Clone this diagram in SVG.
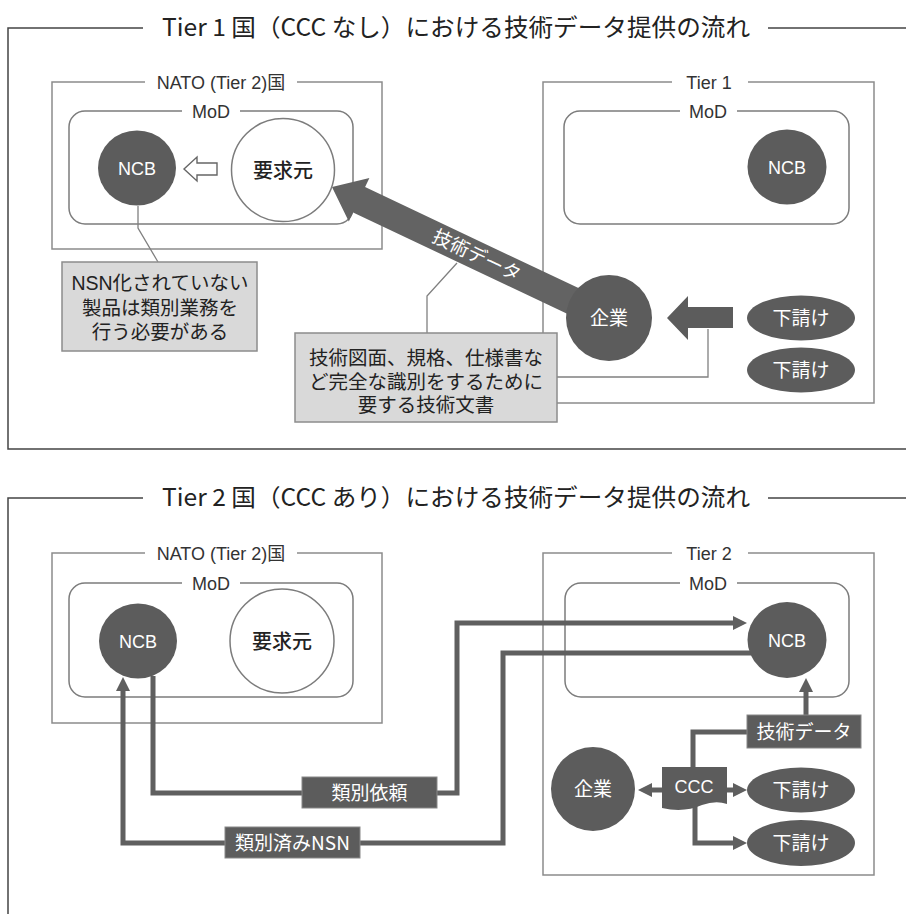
<svg xmlns="http://www.w3.org/2000/svg" width="906" height="914" viewBox="0 0 906 914">
<defs>
<marker id="ah" markerUnits="userSpaceOnUse" markerWidth="16" markerHeight="16" refX="4" refY="7" orient="auto"><path d="M0,0 L14,7 L0,14 Z" fill="#5f5f5f"/></marker>
</defs>
<style>
.frame{fill:none;stroke:#444;stroke-width:1.5}
.box{fill:none;stroke:#8c8c8c;stroke-width:1.5}
.mod{fill:none;stroke:#7c7c7c;stroke-width:1.5}
.dark{fill:#5c5c5c}
.white{fill:#fff;stroke:#7c7c7c;stroke-width:1.5}
.title{font-family:"Noto Sans CJK JP",sans-serif;font-size:24px;fill:#222}
.lbl{font-family:"Liberation Sans","Noto Sans CJK JP",sans-serif;font-size:18px;fill:#333;text-anchor:middle}
.wt{font-family:"Liberation Sans","Noto Sans CJK JP",sans-serif;font-size:18px;fill:#fff;text-anchor:middle}
.wj{font-family:"Noto Sans CJK JP",sans-serif;font-size:19px;fill:#fff;text-anchor:middle}
.bj{font-family:"Noto Sans CJK JP",sans-serif;font-size:20px;font-weight:500;fill:#222;text-anchor:middle}
.callout{fill:#d9d9d9;stroke:#8c8c8c;stroke-width:1.5}
.ctext{font-family:"Liberation Sans","Noto Sans CJK JP",sans-serif;font-size:19.5px;fill:#222;text-anchor:middle}
.ptr{fill:none;stroke:#808080;stroke-width:1.3}
.conn{fill:none;stroke:#5f5f5f;stroke-width:5}
.tag{fill:#5c5c5c;stroke:#888;stroke-width:1}
</style>

<!-- ===== Top panel frame ===== -->
<g id="panel1">
<path class="frame" d="M143,28 H8 V449 H906 M768,28 H906"/>
<text class="title" x="162" y="36" textLength="588" lengthAdjust="spacingAndGlyphs">Tier 1 国（CCC なし）における技術データ提供の流れ</text>
</g>
<g id="p1-nato">
<path class="box" d="M145,82 H52 V249 H382 V82 H297"/>
<text class="lbl" x="221" y="88.5">NATO (Tier 2)国</text>
</g>
<g id="p1-nato-mod">
<path class="mod" d="M182,111 H85 A16,16 0 0 0 69,127 V208 A16,16 0 0 0 85,224 H337 A16,16 0 0 0 353,208 V127 A16,16 0 0 0 337,111 H240"/>
<text class="lbl" x="211" y="117.5">MoD</text>
</g>
<g id="p1-tier1">
<path class="box" d="M672,82 H543 V403 H874 V82 H748"/>
<text class="lbl" x="709" y="88.5">Tier 1</text>
</g>
<g id="p1-tier1-mod">
<path class="mod" d="M680,111 H580 A16,16 0 0 0 564,127 V208 A16,16 0 0 0 580,224 H833 A16,16 0 0 0 849,208 V127 A16,16 0 0 0 833,111 H737"/>
<text class="lbl" x="708" y="117.5">MoD</text>
</g>

<!-- ===== Bottom panel frame ===== -->
<g id="panel2">
<path class="frame" d="M143,498 H8 V914 M768,498 H906"/>
<text class="title" x="162" y="506" textLength="588" lengthAdjust="spacingAndGlyphs">Tier 2 国（CCC あり）における技術データ提供の流れ</text>
</g>
<g id="p2-nato">
<path class="box" d="M145,553 H52 V723 H382 V553 H297"/>
<text class="lbl" x="221" y="559.5">NATO (Tier 2)国</text>
</g>
<g id="p2-nato-mod">
<path class="mod" d="M182,583 H85 A16,16 0 0 0 69,599 V681 A16,16 0 0 0 85,697 H337 A16,16 0 0 0 353,681 V599 A16,16 0 0 0 337,583 H240"/>
<text class="lbl" x="211" y="589.5">MoD</text>
</g>
<g id="p2-tier2">
<path class="box" d="M672,553 H543 V875 H874 V553 H748"/>
<text class="lbl" x="709" y="559.5">Tier 2</text>
</g>
<g id="p2-tier2-mod">
<path class="mod" d="M680,583 H581 A16,16 0 0 0 565,599 V681 A16,16 0 0 0 581,697 H833 A16,16 0 0 0 849,681 V599 A16,16 0 0 0 833,583 H737"/>
<text class="lbl" x="708" y="589.5">MoD</text>
</g>

<!-- ===== Connectors ===== -->
<g id="connectors">
<!-- top panel callout pointers -->
<path class="ptr" d="M138,206 V228 L158,262"/>
<path class="ptr" d="M427,333 V296 L457,263"/>
<path class="ptr" d="M708,329 V377 H557"/>
<!-- top panel hollow arrow 要求元 -> NCB -->
<polygon points="184,169 197,157 197,163 217,163 217,175 197,175 197,181" fill="#fff" stroke="#666" stroke-width="1.4"/>
<!-- top panel block arrow 下請け -> 企業 -->
<polygon points="667,318 688,296 688,307 733,307 733,328 688,328 688,340" fill="#5c5c5c"/>
<!-- top panel big arrow 企業 -> 要求元 -->
<polygon points="332,187 369.4,178.1 365.1,187.1 615,305.3 603,330.7 353.1,212.5 348.8,221.5" fill="#636363"/>
<text class="wj" transform="translate(477,255) rotate(25.3)" x="0" y="7" font-size="19">技術データ</text>

<!-- bottom panel -->
<path class="conn" d="M153,676 V793 H457 V623 H737" marker-end="url(#ah)"/>
<path class="conn" d="M751,653 H503 V843 H123 V687" marker-end="url(#ah)"/>
<path class="conn" d="M806,715 V688" marker-end="url(#ah)"/>
<path class="conn" d="M747,732 H693 V770"/>
<path class="conn" d="M662,790 H648" marker-end="url(#ah)"/>
<path class="conn" d="M727,790 H737" marker-end="url(#ah)"/>
<path class="conn" d="M695,804 V843 H737" marker-end="url(#ah)"/>
<g id="lbl-ruibetsu-irai">
<rect class="tag" x="302" y="777" width="135" height="31"/>
<text class="wj" x="369.5" y="799.5">類別依頼</text>
</g>
<g id="lbl-ruibetsu-nsn">
<rect class="tag" x="225" y="827" width="135" height="31"/>
<text class="wj" x="292.5" y="849.5" font-family="Noto Sans CJK JP, sans-serif">類別済みNSN</text>
</g>
<g id="lbl-gijutsu-data">
<rect class="tag" x="747" y="715" width="114" height="33"/>
<text class="wj" x="804" y="738.5" font-size="20">技術データ</text>
</g>
</g>

<!-- ===== Top panel nodes ===== -->
<g id="p1-ncb-nato">
<ellipse class="dark" cx="137" cy="168" rx="39" ry="37.5"/>
<text class="wt" x="137" y="174.5">NCB</text>
</g>
<g id="p1-youkyuumoto">
<circle class="white" cx="283" cy="170" r="51.5"/>
<text class="bj" x="283" y="177.5">要求元</text>
</g>
<g id="p1-ncb-tier1">
<ellipse class="dark" cx="787" cy="167" rx="39.5" ry="37.5"/>
<text class="wt" x="787" y="173.5">NCB</text>
</g>
<g id="p1-kigyou">
<circle class="dark" cx="609" cy="318" r="43"/>
<text class="wj" x="609" y="325">企業</text>
</g>
<g id="p1-shitauke1">
<ellipse class="dark" cx="801" cy="318" rx="54" ry="22.5"/>
<text class="wj" x="801" y="325">下請け</text>
</g>
<g id="p1-shitauke2">
<ellipse class="dark" cx="801" cy="370" rx="54" ry="22.5"/>
<text class="wj" x="801" y="377">下請け</text>
</g>
<g id="p1-callout1">
<rect class="callout" x="62" y="262" width="195" height="89"/>
<text class="ctext" x="160" y="290">NSN化されていない</text>
<text class="ctext" x="160" y="315">製品は類別業務を</text>
<text class="ctext" x="160" y="339">行う必要がある</text>
</g>
<g id="p1-callout2">
<rect class="callout" x="295" y="333" width="262" height="89"/>
<text class="ctext" x="426" y="365">技術図面、規格、仕様書な</text>
<text class="ctext" x="426" y="389">ど完全な識別をするために</text>
<text class="ctext" x="426" y="412">要する技術文書</text>
</g>

<!-- ===== Bottom panel nodes ===== -->
<g id="p2-ncb-nato">
<ellipse class="dark" cx="138" cy="641" rx="39" ry="37.5"/>
<text class="wt" x="138" y="647.5">NCB</text>
</g>
<g id="p2-youkyuumoto">
<circle class="white" cx="282" cy="641" r="52"/>
<text class="bj" x="282" y="648.5">要求元</text>
</g>
<g id="p2-ncb-tier2">
<ellipse class="dark" cx="787" cy="640" rx="39.5" ry="38"/>
<text class="wt" x="787" y="646.5">NCB</text>
</g>
<g id="p2-kigyou">
<circle class="dark" cx="593" cy="789" r="42"/>
<text class="wj" x="593" y="796">企業</text>
</g>
<g id="p2-ccc">
<path class="dark" d="M662,767 H727 V804 Q716,800 702,805 Q684,813 662,808 Z"/>
<text class="wt" x="694" y="793" font-size="19">CCC</text>
</g>
<g id="p2-shitauke1">
<ellipse class="dark" cx="801" cy="790" rx="54" ry="22.5"/>
<text class="wj" x="801" y="797">下請け</text>
</g>
<g id="p2-shitauke2">
<ellipse class="dark" cx="801" cy="843" rx="54" ry="23"/>
<text class="wj" x="801" y="850">下請け</text>
</g>
</svg>
